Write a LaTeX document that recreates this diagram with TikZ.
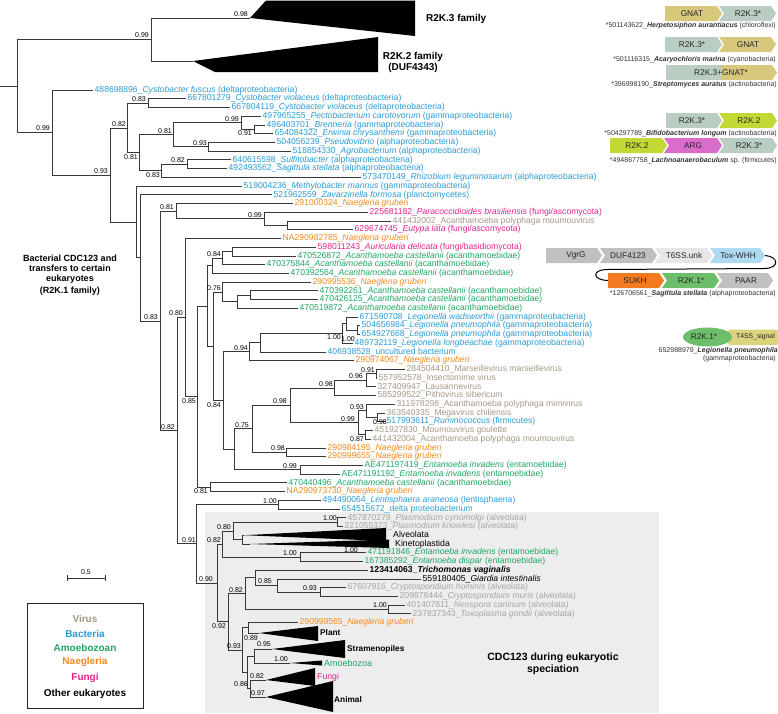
\documentclass[tikz,border=0pt]{standalone}
\usepackage{fontspec}
\setmainfont{Liberation Sans}
\usetikzlibrary{shapes.geometric}
\definecolor{cbac}{HTML}{2A9BD5}
\definecolor{cvir}{HTML}{A69784}
\definecolor{camo}{HTML}{1FA565}
\definecolor{cnae}{HTML}{F28A1C}
\definecolor{cfun}{HTML}{E2228C}
\definecolor{calv}{HTML}{A5A5A5}
\definecolor{gkha}{HTML}{D8C87C}
\definecolor{ggrn}{HTML}{BACDC3}
\definecolor{glim}{HTML}{C3D834}
\definecolor{gpnk}{HTML}{DA6CCB}
\definecolor{ggry}{HTML}{C0C0C0}
\definecolor{glgy}{HTML}{E6E6E6}
\definecolor{gblu}{HTML}{ADDAF1}
\definecolor{gora}{HTML}{F27A21}
\definecolor{ggre}{HTML}{6DBE6B}
\definecolor{gyel}{HTML}{DCD37E}
\newcommand\tleaf[5]{\node[lf,text=#4] (#1) at (#2,#3) {#5};}
\newcommand\tbr[2]{\draw[br] (#1) |- (#2);}
\newcommand\gbox[6]{\fill[#5] (#1,#3) -- ({#2-5},#3) -- (#2,{(#3+#4)/2}) -- ({#2-5},#4) -- (#1,#4) -- ({#1+#6},{(#3+#4)/2}) -- cycle;}
\begin{document}
\begin{tikzpicture}[x=1pt,y=-1pt,
 br/.style={draw=black!78,line width=0.8pt},
 lf/.style={anchor=west,inner xsep=1.5pt,inner ysep=0pt,font=\fontsize{8.6}{9}\selectfont},
 bs/.style={anchor=east,inner sep=0pt,font=\fontsize{7}{8}\selectfont},
 clade/.style={fill=black},
 cl/.style={anchor=west,inner sep=0pt,font=\fontsize{8.7}{9}\selectfont},
 clb/.style={anchor=west,inner sep=0pt,font=\bfseries\fontsize{8.3}{9}\selectfont},
 glab/.style={inner sep=0pt,font=\fontsize{8.3}{9}\selectfont,text=black!85},
 gcap/.style={anchor=east,inner sep=0pt,font=\fontsize{7}{8}\selectfont,text=black!80},
 legtxt/.style={inner sep=0pt,font=\bfseries\fontsize{10}{11}\selectfont},
]
\useasboundingbox (0,0) rectangle (778,713);
% shaded eukaryotic box
\fill[black!7] (205,512) rectangle (659,713);
\node[inner sep=0pt,align=center,font=\bfseries\fontsize{10.5}{12}\selectfont] (cdcbox) at (553,664) {CDC123 during eukaryotic\\speciation};

% ---------- internal node coordinates ----------
\coordinate (rootstub) at (0,86);
\coordinate (root) at (17,86);
\coordinate (A) at (151,39.5);
\coordinate (B) at (52,132.5);
\coordinate (C) at (110,175);
\coordinate (D) at (127,128);
\coordinate (P1) at (148,103.1);
\coordinate (P2) at (139,152.8);
\coordinate (P3) at (173,134.7);
\coordinate (P5) at (241,122.7);
\coordinate (P7) at (254,129.3);
\coordinate (P6) at (208,146.7);
\coordinate (P4) at (161,170.8);
\coordinate (P8) at (187,164.2);
\coordinate (E) at (136,221.9);
\coordinate (E2) at (140,257.8);
\coordinate (E3) at (160,320.9);
\coordinate (Q1) at (176,211.1);
\coordinate (Q3) at (264,218.8);
\coordinate (Q4) at (287,225.3);
\coordinate (Q2) at (177,430.6);
\coordinate (M1) at (185,317.5);
\coordinate (Z) at (197,396.6);
\coordinate (Y1) at (207,305.9);
\coordinate (S2) at (212,265.7);
\coordinate (N84a) at (222,258.1);
\coordinate (S1) at (232,251.5);
\coordinate (Y3) at (213,346.2);
\coordinate (N76) at (222,291.9);
\coordinate (S3) at (237,301.7);
\coordinate (S4) at (250,295.2);
\coordinate (N84b) at (223,400.5);
\coordinate (N94) at (249,351.6);
\coordinate (T1) at (260,342.6);
\coordinate (G1) at (342,333.3);
\coordinate (G2) at (346,323.5);
\coordinate (G3) at (357,330.1);
\coordinate (V1) at (234,449.3);
\coordinate (V2) at (252,428.8);
\coordinate (V4) at (290,405.4);
\coordinate (W3) at (334,387.9);
\coordinate (W2) at (366,380.3);
\coordinate (W1) at (376,373.7);
\coordinate (V7) at (358,422.8);
\coordinate (X1) at (366,410.8);
\coordinate (X2) at (377,417.4);
\coordinate (X3) at (365,434.8);
\coordinate (V5) at (286,452.3);
\coordinate (V3) at (300,469.8);
\coordinate (N81) at (210,487.2);
\coordinate (K1) at (196,543.8);
\coordinate (Lent) at (278,504.7);
\coordinate (K2) at (217,582.9);
\coordinate (K3) at (222,544);
\coordinate (K5) at (233,530.9);
\coordinate (Plas) at (337,522.1);
\coordinate (K6) at (242,539.6);
\coordinate (Ent) at (300,557.1);
\coordinate (K4) at (228,621.8);
\coordinate (K7) at (245,593.6);
\coordinate (K9) at (255,577.8);
\coordinate (C85) at (277,585.4);
\coordinate (C93) at (320,592);
\coordinate (NT) at (388,609.4);
\coordinate (K8) at (242,650);
\coordinate (P89) at (248,627.8);
\coordinate (Xn) at (247,672.3);
\coordinate (SA) at (254,656);
\coordinate (FA) at (250,688.5);
% clade apexes
\coordinate (R3a) at (250,18);
\coordinate (R2a) at (193,61);
\coordinate (Alva) at (244,535.2);
\coordinate (Kina) at (250,544);
\coordinate (Plta) at (259,633);
\coordinate (Stra) at (272,649);
\coordinate (Amoa) at (290,663);
\coordinate (Funa) at (266,680);
\coordinate (Ania) at (266,697);

% ---------- collapsed clades ----------
\fill[clade] (R3a) -- (266,0.5) -- (415,0.5) -- (415,36) -- cycle;
\fill[clade] (R2a) -- (378,37) -- (378,72) -- (215,72) -- cycle;
\fill[clade] (Alva) -- (386,528) -- (386,541) -- cycle;
\fill[clade] (Kina) -- (389,539.5) -- (389,548) -- cycle;
\fill[clade] (Plta) -- (318,626) -- (318,641) -- cycle;
\fill[clade] (Stra) -- (345,640) -- (345,658) -- cycle;
\fill[clade] (Amoa) -- (322,660.5) -- (322,665.5) -- cycle;
\fill[clade] (Funa) -- (315,668) -- (315,686) -- cycle;
\fill[clade] (Ania) -- (333,681) -- (333,712) -- cycle;

\node[anchor=west,inner sep=0pt,font=\bfseries\fontsize{10}{11}\selectfont] (r3lab) at (426,19) {R2K.3 family};
\node[inner sep=0pt,align=center,font=\bfseries\fontsize{10}{11}\selectfont] (r2lab) at (413,62.5) {R2K.2 family\\(DUF4343)};
\node[cl] (alvlab) at (393,534.5) {Alveolata};
\node[cl] (kinlab) at (395,544.5) {Kinetoplastida};
\node[clb] (pltlab) at (320,632.5) {Plant};
\node[clb] (strlab) at (347,649.5) {Stramenopiles};
\node[cl,text=camo,font=\fontsize{9}{9}\selectfont] (amolab) at (324,663.5) {Amoebozoa};
\node[cl,text=cfun] (funlab) at (317,677.5) {Fungi};
\node[clb] (anilab) at (334,699.5) {Animal};

% ---------- leaves ----------
\tleaf{L1}{93}{90}{cbac}{488698896\_\textit{Cystobacter fuscus} (deltaproteobacteria)}
\tleaf{L2}{186}{98.7}{cbac}{667801279\_\textit{Cystobacter violaceus} (deltaproteobacteria)}
\tleaf{L3}{230}{107.5}{cbac}{667804119\_\textit{Cystobacter violaceus} (deltaproteobacteria)}
\tleaf{L4}{261}{116.2}{cbac}{497965255\_\textit{Pectobacterium carotovorum} (gammaproteobacteria)}
\tleaf{L5}{265}{124.9}{cbac}{496403701\_\textit{Brenneria} (gammaproteobacteria)}
\tleaf{L6}{273}{133.6}{cbac}{654084322\_\textit{Erwinia chrysanthemi} (gammaproteobacteria)}
\tleaf{L7}{275}{142.4}{cbac}{504056239\_\textit{Pseudovibrio} (alphaproteobacteria)}
\tleaf{L8}{291}{151.1}{cbac}{518854330\_\textit{Agrobacterium} (alphaproteobacteria)}
\tleaf{L9}{231}{159.8}{cbac}{640615598\_\textit{Sulfitobacter} (alphaproteobacteria)}
\tleaf{L10}{227}{168.6}{cbac}{492493562\_\textit{Sagittula stellata} (alphaproteobacteria)}
\tleaf{L11}{361}{177.3}{cbac}{573470149\_\textit{Rhizobium leguminosarum} (alphaproteobacteria)}
\tleaf{L12}{242}{186}{cbac}{519004236\_\textit{Methylobacter marinus} (gammaproteobacteria)}
\tleaf{L13}{272}{194.8}{cbac}{521962559\_\textit{Zavarzinella formosa} (planctomycetes)}
\tleaf{L14}{293}{203.5}{cnae}{291000324\_\textit{Naegleria gruberi}}
\tleaf{L15}{368}{212.2}{cfun}{225681182\_\textit{Paracoccidioides brasiliensis} (fungi/ascomycota)}
\tleaf{L16}{391}{221}{cvir}{441432002\_Acanthamoeba polyphaga moumouvirus}
\tleaf{L17}{353}{229.7}{cfun}{629674745\_\textit{Eutypa lata} (fungi/ascomycota)}
\tleaf{L18}{281}{238.4}{cnae}{NA290982785\_\textit{Naegleria gruberi}}
\tleaf{L19}{316}{247.1}{cfun}{598011243\_\textit{Auricularia delicata} (fungi/basidiomycota)}
\tleaf{L20}{296}{255.9}{camo}{470526872\_\textit{Acanthamoeba castellanii} (acanthamoebidae)}
\tleaf{L21}{265}{264.6}{camo}{470375844\_\textit{Acanthamoeba castellanii} (acanthamoebidae)}
\tleaf{L22}{289}{273.3}{camo}{470392564\_\textit{Acanthamoeba castellanii} (acanthamoebidae)}
\tleaf{L23}{311}{282.1}{cnae}{290995536\_\textit{Naegleria gruberi}}
\tleaf{L24}{318}{290.8}{camo}{470392261\_\textit{Acanthamoeba castellanii} (acanthamoebidae)}
\tleaf{L25}{318}{299.5}{camo}{470426125\_\textit{Acanthamoeba castellanii} (acanthamoebidae)}
\tleaf{L26}{298}{308.2}{camo}{470519872\_\textit{Acanthamoeba castellanii} (acanthamoebidae)}
\tleaf{L27}{358}{317}{cbac}{671590708\_\textit{Legionella wadsworthii} (gammaproteobacteria)}
\tleaf{L28}{360}{325.7}{cbac}{504656984\_\textit{Legionella pneumophila} (gammaproteobacteria)}
\tleaf{L29}{360}{334.4}{cbac}{654927668\_\textit{Legionella pneumophila} (gammaproteobacteria)}
\tleaf{L30}{353}{343.2}{cbac}{489732119\_\textit{Legionella longbeachae} (gammaproteobacteria)}
\tleaf{L31}{326}{351.9}{cbac}{406938528\_uncultured bacterium}
\tleaf{L32}{354}{360.6}{cnae}{290974067\_\textit{Naegleria gruberi}}
\tleaf{L33}{405}{369.4}{cvir}{284504410\_Marseillevirus marseillevirus}
\tleaf{L34}{377}{378.1}{cvir}{557952578\_Insectomime virus}
\tleaf{L35}{376}{386.8}{cvir}{327409947\_Lausannevirus}
\tleaf{L36}{376}{395.5}{cvir}{585299522\_Pithovirus sibericum}
\tleaf{L37}{395}{404.3}{cvir}{311978298\_Acanthamoeba polyphaga mimivirus}
\tleaf{L38}{385}{413}{cvir}{363540335\_Megavirus chiliensis}
\tleaf{L39}{385}{421.7}{cbac}{517993611\_\textit{Ruminococcus} (firmicutes)}
\tleaf{L40}{373}{430.5}{cvir}{451927830\_Moumouvirus goulette}
\tleaf{L41}{371}{439.2}{cvir}{441432004\_Acanthamoeba polyphaga moumouvirus}
\tleaf{L42}{326}{447.9}{cnae}{290984195\_\textit{Naegleria gruberi}}
\tleaf{L43}{326}{456.7}{cnae}{290999655\_\textit{Naegleria gruberi}}
\tleaf{L44}{363}{465.4}{camo}{AE471197419\_\textit{Entamoeba invadens} (entamoebidae)}
\tleaf{L45}{340}{474.1}{camo}{AE471191192\_\textit{Entamoeba invadens} (entamoebidae)}
\tleaf{L46}{287}{482.8}{camo}{470440496\_\textit{Acanthamoeba castellanii} (acanthamoebidae)}
\tleaf{L47}{285}{491.6}{cnae}{NA290973730\_\textit{Naegleria gruberi}}
\tleaf{L48}{321}{500.3}{cbac}{494490064\_\textit{Lentisphaera araneosa} (lentisphaeria)}
\tleaf{L49}{340}{509}{cbac}{654515672\_delta proteobacterium}
\tleaf{L50}{346}{517.8}{calv}{457870279\_\textit{Plasmodium cynomolgi} (alveolata)}
\tleaf{L51}{343}{526.5}{calv}{221055373\_\textit{Plasmodium knowlesi} (alveolata)}
\tleaf{L54}{366}{552.7}{camo}{471191846\_\textit{Entamoeba invadens} (entamoebidae)}
\tleaf{L55}{363}{561.4}{camo}{167385292\_\textit{Entamoeba dispar} (entamoebidae)}
\tleaf{L56}{368}{570.1}{black}{\bfseries 123414063\_\textit{Trichomonas vaginalis}}
\tleaf{L57}{421}{578.9}{black}{559180405\_\textit{Giardia intestinalis}}
\tleaf{L58}{346}{587.6}{calv}{67607916\_\textit{Cryptosporidium hominis} (alveolata)}
\tleaf{L59}{398}{596.3}{calv}{209878444\_\textit{Cryptosporidium muris} (alveolata)}
\tleaf{L60}{405}{605.1}{calv}{401407811\_\textit{Neospora caninum} (alveolata)}
\tleaf{L61}{411}{613.8}{calv}{237837343\_\textit{Toxoplasma gondii} (alveolata)}
\tleaf{L62}{298}{622.5}{cnae}{290999565\_\textit{Naegleria gruberi}}

% ---------- branches ----------
\draw[br] (rootstub) -- (root);
\tbr{root}{A} \tbr{root}{B}
\tbr{A}{R3a} \tbr{A}{R2a}
\tbr{B}{L1.west} \tbr{B}{C}
\tbr{C}{D} \tbr{C}{E}
\tbr{D}{P1} \tbr{D}{P2}
\tbr{P1}{L2.west} \tbr{P1}{L3.west}
\tbr{P2}{P3} \tbr{P2}{P4}
\tbr{P3}{P5} \tbr{P3}{P6}
\tbr{P5}{L4.west} \tbr{P5}{P7}
\tbr{P7}{L5.west} \tbr{P7}{L6.west}
\tbr{P6}{L7.west} \tbr{P6}{L8.west}
\tbr{P4}{P8} \tbr{P4}{L11.west}
\tbr{P8}{L9.west} \tbr{P8}{L10.west}
\tbr{E}{L12.west} \tbr{E}{E2}
\tbr{E2}{L13.west} \tbr{E2}{E3}
\tbr{E3}{Q1} \tbr{E3}{Q2}
\tbr{Q1}{L14.west} \tbr{Q1}{Q3}
\tbr{Q3}{L15.west} \tbr{Q3}{Q4}
\tbr{Q4}{L16.west} \tbr{Q4}{L17.west}
\tbr{Q2}{M1} \tbr{Q2}{K1}
\tbr{M1}{L18.west} \tbr{M1}{Z}
\tbr{Z}{Y1} \tbr{Z}{N81}
\tbr{Y1}{S2} \tbr{Y1}{Y3}
\tbr{S2}{N84a} \tbr{S2}{L22.west}
\tbr{N84a}{S1} \tbr{N84a}{L21.west}
\tbr{S1}{L19.west} \tbr{S1}{L20.west}
\tbr{Y3}{N76} \tbr{Y3}{N84b}
\tbr{N76}{L23.west} \tbr{N76}{S3}
\tbr{S3}{S4} \tbr{S3}{L26.west}
\tbr{S4}{L24.west} \tbr{S4}{L25.west}
\tbr{N84b}{N94} \tbr{N84b}{V1}
\tbr{N94}{T1} \tbr{N94}{L32.west}
\tbr{T1}{G1} \tbr{T1}{L31.west}
\tbr{G1}{G2} \tbr{G1}{L30.west}
\tbr{G2}{L27.west} \tbr{G2}{G3}
\tbr{G3}{L28.west} \tbr{G3}{L29.west}
\tbr{V1}{V2} \tbr{V1}{V3}
\tbr{V2}{V4} \tbr{V2}{V5}
\tbr{V4}{W3} \tbr{V4}{V7}
\tbr{W3}{W2} \tbr{W3}{L36.west}
\tbr{W2}{W1} \tbr{W2}{L35.west}
\tbr{W1}{L33.west} \tbr{W1}{L34.west}
\tbr{V7}{X1} \tbr{V7}{X3}
\tbr{X1}{L37.west} \tbr{X1}{X2}
\tbr{X2}{L38.west} \tbr{X2}{L39.west}
\tbr{X3}{L40.west} \tbr{X3}{L41.west}
\tbr{V5}{L42.west} \tbr{V5}{L43.west}
\tbr{V3}{L44.west} \tbr{V3}{L45.west}
\tbr{N81}{L46.west} \tbr{N81}{L47.west}
\tbr{K1}{Lent} \tbr{K1}{K2}
\tbr{Lent}{L48.west} \tbr{Lent}{L49.west}
\tbr{K2}{K3} \tbr{K2}{K4}
\tbr{K3}{K5} \tbr{K3}{Ent}
\tbr{K5}{Plas} \tbr{K5}{K6}
\tbr{Plas}{L50.west} \tbr{Plas}{L51.west}
\tbr{K6}{Alva} \tbr{K6}{Kina}
\tbr{Ent}{L54.west} \tbr{Ent}{L55.west}
\tbr{K4}{K7} \tbr{K4}{K8}
\tbr{K7}{K9} \tbr{K7}{NT}
\tbr{K9}{L56.west} \tbr{K9}{C85}
\tbr{C85}{L57.west} \tbr{C85}{C93}
\tbr{C93}{L58.west} \tbr{C93}{L59.west}
\tbr{NT}{L60.west} \tbr{NT}{L61.west}
\tbr{K8}{P89} \tbr{K8}{Xn}
\tbr{P89}{L62.west} \tbr{P89}{Plta}
\tbr{Xn}{SA} \tbr{Xn}{FA}
\tbr{SA}{Stra} \tbr{SA}{Amoa}
\tbr{FA}{Funa} \tbr{FA}{Ania}

% ---------- support values ----------
\node[bs] (s1) at (149,35.5) {0.99};
\node[bs] (s2) at (248,14) {0.98};
\node[bs] (s3) at (50,128.5) {0.99};
\node[bs] (s4) at (146,99) {0.83};
\node[bs] (s5) at (126,124) {0.82};
\node[bs] (s6) at (138,157) {0.81};
\node[bs] (s7) at (239,118.7) {0.99};
\node[bs] (s8) at (252,133.5) {0.91};
\node[bs] (s9) at (172,130.7) {0.81};
\node[bs] (s10) at (207,142.7) {0.93};
\node[bs] (s11) at (185,160.2) {0.82};
\node[bs] (s12) at (160,175.5) {0.83};
\node[bs] (s13) at (108,171) {0.93};
\node[bs] (s14) at (174,207.1) {0.81};
\node[bs] (s15) at (262,214.8) {0.99};
\node[bs] (s16) at (221,254.1) {0.84};
\node[bs] (s17) at (221,287.9) {0.76};
\node[bs] (s18) at (158,316.9) {0.83};
\node[bs] (s19) at (183,313.5) {0.80};
\node[bs] (s20) at (248,347.6) {0.94};
\node[bs] (s21) at (341,337.5) {1.00};
\node[bs] (s22) at (355,339) {1.00};
\node[bs] (s23) at (196,400.8) {0.85};
\node[bs] (s24) at (221,404.7) {0.84};
\node[bs] (s25) at (175,426.6) {0.82};
\node[bs] (s26) at (249,424.8) {0.75};
\node[bs] (s27) at (287,401.4) {0.98};
\node[bs] (s28) at (333,383.9) {0.98};
\node[bs] (s29) at (363,376.3) {0.96};
\node[bs] (s30) at (375,369.7) {0.91};
\node[bs] (s31) at (364,406.8) {0.93};
\node[bs] (s32) at (355,418.8) {0.99};
\node[bs] (s33) at (387,421.6) {0.98};
\node[bs] (s34) at (364,438.8) {0.87};
\node[bs] (s35) at (285,448.3) {0.98};
\node[bs] (s36) at (297,465.8) {0.99};
\node[bs] (s37) at (208,491.4) {0.81};
\node[bs] (s38) at (277,500.7) {1.00};
\node[bs] (s39) at (196,539.8) {0.91};
\node[bs] (s40) at (337,518.1) {1.00};
\node[bs] (s41) at (231,526.9) {0.80};
\node[bs] (s42) at (221,540) {0.82};
\node[bs] (s43) at (358,550) {1.00};
\node[bs] (s44) at (297,553.1) {1.00};
\node[bs] (s45) at (213,578.9) {0.90};
\node[bs] (s46) at (272,581.4) {0.85};
\node[bs] (s47) at (317,588) {0.93};
\node[bs] (s48) at (243,589.6) {0.82};
\node[bs] (s49) at (387,605.4) {1.00};
\node[bs] (s50) at (226,626.5) {0.92};
\node[bs] (s51) at (258,637.8) {0.89};
\node[bs] (s52) at (241,646) {0.93};
\node[bs] (s53) at (271,644.5) {0.95};
\node[bs] (s54) at (288,659) {1.00};
\node[bs] (s55) at (264,676.3) {0.82};
\node[bs] (s56) at (248,684.5) {0.86};
\node[bs] (s57) at (265,693) {0.97};

% ---------- left annotation ----------
\node[inner sep=0pt,align=center,font=\bfseries\fontsize{9}{10}\selectfont] (r1lab) at (70,275) {Bacterial CDC123 and\\transfers to certain\\eukaryotes\\[2pt](R2K.1 family)};

% ---------- scale bar ----------
\coordinate (sb1) at (67,578);
\coordinate (sb2) at (105,578);
\draw[line width=0.8pt,black!80] (sb1) -- (sb2);
\draw[line width=0.8pt,black!80] (67,575) -- (67,581);
\draw[line width=0.8pt,black!80] (105,575) -- (105,581);
\node[inner sep=0pt,font=\fontsize{7}{8}\selectfont] (sblab) at (86,572) {0.5};

% ---------- legend ----------
\draw[line width=0.9pt,black!85] (27,603) rectangle (143,708);
\node[legtxt,text=cvir] (lg1) at (85,619) {Virus};
\node[legtxt,text=cbac] (lg2) at (85,633.5) {Bacteria};
\node[legtxt,text=camo] (lg3) at (85,647.5) {Amoebozoan};
\node[legtxt,text=cnae] (lg4) at (85,662) {Naegleria};
\node[legtxt,text=cfun] (lg5) at (85,677.5) {Fungi};
\node[legtxt,text=black] (lg6) at (85,693.5) {Other eukaryotes};

% ---------- gene neighbourhoods ----------
% row 1
\gbox{665}{722}{6}{21}{gkha}{0}
\gbox{719}{776}{6}{21}{ggrn}{5}
\node[glab] (g1a) at (692,13.5) {GNAT};
\node[glab] (g1b) at (748,13.5) {R2K.3*};
\node[gcap] (c1) at (776,25.5) {*501143622\_\textbf{\textit{Herpetosiphon aurantiacus}} (chloroflexi)};
% row 2
\gbox{665}{722}{37}{52}{ggrn}{0}
\gbox{719}{776}{37}{52}{gkha}{5}
\node[glab] (g2a) at (692,44.5) {R2K.3*};
\node[glab] (g2b) at (748,44.5) {GNAT};
\node[gcap] (c2) at (776,60) {*501116315\_\textbf{\textit{Acaryochloris marina}} (cyanobacteria)};
% row 3
\begin{scope}
\clip (666,65) -- (772,65) -- (777,72.5) -- (772,80) -- (666,80) -- cycle;
\fill[ggrn] (666,65) rectangle (721,80);
\fill[gkha] (721,65) rectangle (778,80);
\end{scope}
\node[glab] (g3a) at (721,72.5) {R2K.3+GNAT*};
\node[gcap] (c3) at (777,84.5) {*396998190\_\textbf{\textit{Streptomyces auratus}} (actinobacteria)};
% row 4
\gbox{666}{722}{113}{128}{ggrn}{0}
\gbox{719}{777}{113}{128}{glim}{5}
\node[glab] (g4a) at (692,120.5) {R2K.3*};
\node[glab] (g4b) at (749,120.5) {R2K.2};
\node[gcap] (c4) at (777,133.5) {*504297789\_\textbf{\textit{Bifidobacterium longum}} (actinobacteria)};
% row 5
\gbox{610}{667}{138}{153}{glim}{0}
\gbox{664}{722}{138}{153}{gpnk}{5}
\gbox{719}{777}{138}{153}{ggrn}{5}
\node[glab] (g5a) at (637,145.5) {R2K.2};
\node[glab] (g5b) at (693,145.5) {ARG};
\node[glab] (g5c) at (749,145.5) {R2K.3*};
\node[gcap] (c5) at (777,161) {*494867758\_\textbf{\textit{Lachnoanaerobaculum}} sp. (firmicutes)};
% row 6
\gbox{546}{602}{248}{263}{ggry}{0}
\gbox{600}{657}{248}{263}{ggry}{5}
\gbox{655}{712}{248}{263}{glgy}{5}
\gbox{710}{765}{248}{263}{gblu}{5}
\node[glab] (g6a) at (576,255.5) {VgrG};
\node[glab] (g6b) at (628,255.5) {DUF4123};
\node[glab] (g6c) at (684,255.5) {T6SS.unk};
\node[glab] (g6d) at (738,255.5) {Tox-WHH};
% row 7
\gbox{608}{664}{273}{288}{gora}{0}
\gbox{662}{719}{273}{288}{ggre}{5}
\gbox{717}{773}{273}{288}{ggry}{5}
\node[glab] (g7a) at (635,280.5) {SUKH};
\node[glab] (g7b) at (691,280.5) {R2K.1*};
\node[glab] (g7c) at (746,280.5) {PAAR};
\coordinate (toxtip) at (765,255.5);
\coordinate (sukhin) at (608,280.5);
\draw[line width=1pt,black] (toxtip) .. controls (779,256.5) and (780,268.5) .. (764,268.5) -- (606,269.5) .. controls (592,270) and (592,280) .. (sukhin);
\node[gcap] (c7) at (776,293.5) {*126706561\_\textbf{\textit{Sagittula stellata}} (alphaproteobacteria)};
% row 8
\fill[gyel,rounded corners=2pt] (728,329.5) rectangle (778,345);
\node[ellipse,fill=ggre,minimum width=49pt,minimum height=19pt,inner sep=0pt] (g8a) at (707.5,337) {};
\node[glab] (g8t) at (704,337) {R2K.1*};
\node[glab,font=\fontsize{6.8}{8}\selectfont] (g8b) at (755.5,337) {T4SS\_signal};
\node[gcap] (c8a) at (778,351) {652988979\_\textbf{\textit{Legionella pneumophila}}};
\node[gcap] (c8b) at (776,358.5) {(gammaproteobacteria)};
\end{tikzpicture}
\end{document}
